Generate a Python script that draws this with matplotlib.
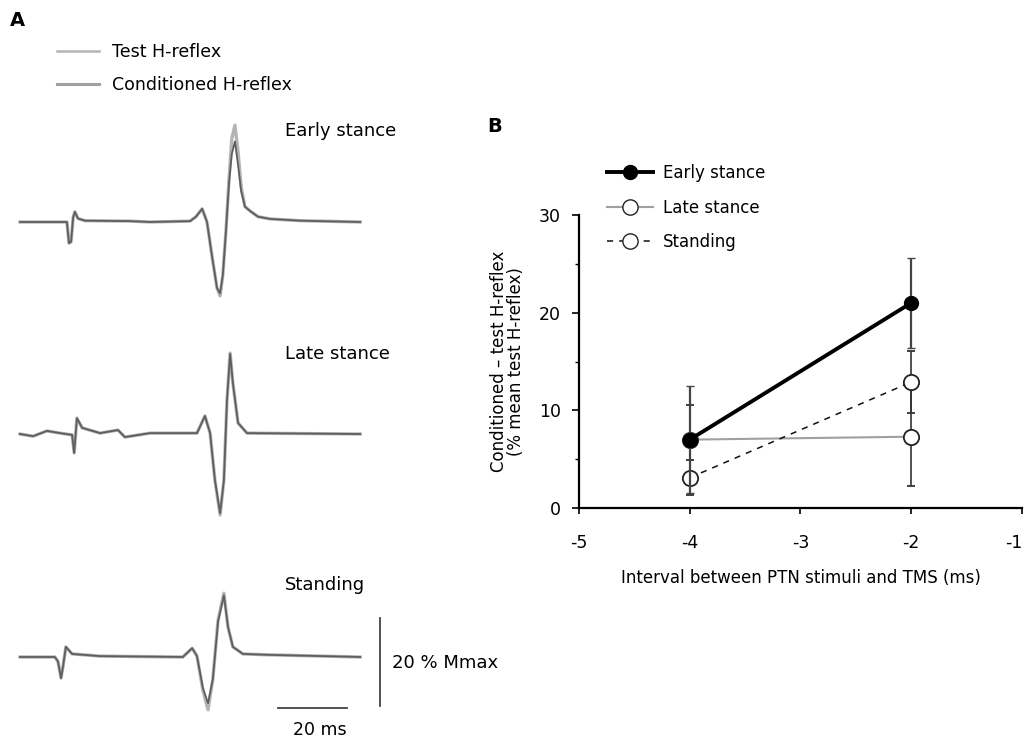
import numpy as np
import matplotlib
matplotlib.use("Agg")
import matplotlib.pyplot as plt
from matplotlib.lines import Line2D

plt.rcParams['font.family'] = ['DejaVu Sans']
plt.rcParams['axes.unicode_minus'] = False

# ---- panel A: H-reflex traces (time in ms, amplitude in % Mmax) ----
early_t = [0, 11.6, 13.6, 14.2, 14.8, 15.4, 15.9, 16.8, 18.8, 31.9, 37.7, 49.3, 51.0, 52.8,
           54.2, 55.7, 57.1, 58.0, 58.8, 59.7, 60.6, 61.4, 62.3, 63.2, 64.1, 65.2, 66.7,
           69.0, 72.5, 81.2, 98.6]
early_test = [0, 0, 0, -4.8, -4.5, 1.0, 2.3, 0.8, 0.3, 0.2, 0, 0.2, 1.2, 3.0,
              0, -8, -15, -16.8, -12, -2, 10, 19, 22, 16, 8, 3.5, 2.5,
              1.2, 0.7, 0.3, 0]
early_cond = [0, 0, 0, -4.8, -4.5, 1.0, 2.3, 0.8, 0.3, 0.2, 0, 0.2, 1.2, 3.0,
              0, -8, -15, -16.2, -12, -2, 9, 15.5, 18.3, 13, 7, 3.5, 2.5,
              1.2, 0.7, 0.3, 0]

late_t = [0, 3.8, 7.8, 11.6, 15.1, 15.7, 16.5, 18.0, 23.2, 28.4, 30.4, 37.7, 51.3, 53.6,
          55.1, 56.5, 58.0, 59.1, 60.0, 60.9, 61.7, 63.2, 65.8, 98.6]
late_test = [0, -0.5, 0.7, 0.2, -0.2, -4.3, 3.6, 1.4, 0.2, 0.9, -0.7, 0.2, 0.2, 4.1,
             0.2, -10.5, -18.4, -10.5, 7.7, 18.4, 11.6, 2.5, 0.2, 0]
late_cond = [0, -0.5, 0.7, 0.2, -0.2, -4.3, 3.6, 1.4, 0.2, 0.9, -0.7, 0.2, 0.2, 4.1,
             0.2, -10.5, -18.0, -10.5, 7.7, 18.2, 11.6, 2.5, 0.2, 0]

stand_t = [0, 10.1, 11.0, 11.9, 12.5, 13.3, 15.1, 23.2, 47.2, 49.9, 51.3, 53.0, 54.5,
           55.9, 57.4, 59.1, 60.3, 61.7, 64.6, 71.6, 98.6]
stand_test = [0, 0, -1, -4.8, -2, 2.3, 0.7, 0.2, 0, 2.0, 0.2, -7.5, -12.0,
              -5, 8.4, 14.5, 6.8, 2.3, 0.7, 0.5, 0]
stand_cond = [0, 0, -1, -4.8, -2, 2.3, 0.7, 0.2, 0, 2.0, 0.2, -7.0, -10.5,
              -5, 8.0, 14.0, 6.8, 2.3, 0.7, 0.5, 0]

# ---- panel B: conditioned - test H-reflex ----
intervals = [-4, -2]
early_mean = [7.0, 21.0]
early_err = [5.5, 4.6]
late_mean = [7.0, 7.3]
late_err = [3.5, 5.0]
stand_mean = [3.1, 12.9]
stand_err = [1.8, 3.2]

fig = plt.figure(figsize=(10.26, 7.44), dpi=100)
W, H = 1026, 744

# panel A axis in pixel-derived units: 3.45 px per ms, 4.4 px per % Mmax
axA = fig.add_axes([0, 0, 0.5, 1])
axA.set_xlim(-20 / 3.45, (513 - 20) / 3.45)
axA.set_ylim(0, 744 / 4.4)
axA.axis('off')

test_col = '#b4b4b4'
cond_col = '#5e5e5e'
offsets = [(744 - 222) / 4.4, (744 - 434) / 4.4, (744 - 657) / 4.4]
for (t, a, b), off in zip([(early_t, early_test, early_cond),
                           (late_t, late_test, late_cond),
                           (stand_t, stand_test, stand_cond)], offsets):
    axA.plot(t, np.array(a) + off, color=test_col, lw=2.4, solid_joinstyle='round')
    axA.plot(t, np.array(b) + off, color=cond_col, lw=1.3, solid_joinstyle='round')

# scale bars
axA.plot([104.3, 104.3], [8.6, 28.6], color='#444444', lw=1.3)
axA.plot([74.8, 94.8], [8.2, 8.2], color='#444444', lw=1.3)

fig.text(392 / W, 1 - 663 / H, '20 % Mmax', fontsize=13, va='center', ha='left')
fig.text(320 / W, 1 - 730 / H, '20 ms', fontsize=12.5, va='center', ha='center')
fig.text(285 / W, 1 - 131 / H, 'Early stance', fontsize=13, va='center', ha='left')
fig.text(285 / W, 1 - 354 / H, 'Late stance', fontsize=13, va='center', ha='left')
fig.text(285 / W, 1 - 585 / H, 'Standing', fontsize=13, va='center', ha='left')
fig.text(10 / W, 1 - 20 / H, 'A', fontsize=14, fontweight='bold', va='center', ha='left')
fig.text(487 / W, 1 - 127 / H, 'B', fontsize=14, fontweight='bold', va='center', ha='left')

legA = [Line2D([], [], color=test_col, lw=1.8), Line2D([], [], color='#a0a0a0', lw=2.2)]
axA.legend(legA, ['Test H-reflex', 'Conditioned H-reflex'], loc='upper left',
           bbox_to_anchor=(57 / W, 1 - 43 / H), bbox_transform=fig.transFigure,
           frameon=False, fontsize=12.5, handlelength=2.4, handletextpad=0.75,
           labelspacing=0.85, borderpad=0, borderaxespad=0)

# panel B
axB = fig.add_axes([579 / W, (744 - 508) / H, (1022 - 579) / W, (508 - 215) / H])
axB.errorbar(intervals, late_mean, yerr=late_err, color='#a0a0a0', lw=1.5,
             ecolor='#333333', elinewidth=1.2, capsize=3, marker='o', ms=11,
             mfc='white', mec='#222222', mew=1.3, zorder=3)
axB.errorbar(intervals, stand_mean, yerr=stand_err, color='#111111', lw=1.1, ls=(0, (4, 4)),
             ecolor='#333333', elinewidth=1.2, capsize=3, marker='o', ms=11,
             mfc='white', mec='#222222', mew=1.3, zorder=3)
axB.errorbar(intervals, early_mean, yerr=early_err, color='black', lw=2.8,
             ecolor='#444444', elinewidth=1.6, capsize=3, marker='o', ms=10,
             mfc='black', mec='black', zorder=4)

axB.set_xlim(-5, -1)
axB.set_ylim(0, 30)
axB.set_xticks([-5, -4, -3, -2, -1])
axB.set_yticks([0, 10, 20, 30])
axB.set_yticks([5, 15, 25], minor=True)
axB.spines['top'].set_visible(False)
axB.spines['right'].set_visible(False)
axB.spines['left'].set_linewidth(1.6)
axB.spines['bottom'].set_linewidth(1.6)
axB.tick_params(axis='x', direction='out', length=4, width=1.2, pad=15, labelsize=12.5)
axB.tick_params(axis='y', direction='out', length=5, width=1.2, pad=8, labelsize=12.5)
axB.tick_params(axis='y', which='minor', direction='out', length=3, width=1.0)
lastlab = axB.get_xticklabels()[-1]
lastlab.set_horizontalalignment('right')
axB.set_xlabel('Interval between PTN stimuli and TMS (ms)', fontsize=12, labelpad=12)
axB.set_ylabel('Conditioned \u2013 test H-reflex\n(% mean test H-reflex)', fontsize=12,
               labelpad=10, linespacing=0.95)

legB = [Line2D([], [], color='black', lw=2.8, marker='o', ms=10, mfc='black'),
        Line2D([], [], color='#a0a0a0', lw=1.5, marker='o', ms=11, mfc='white', mec='#222222'),
        Line2D([], [], color='#111111', lw=1.1, ls=(0, (4, 4)), marker='o', ms=11,
               mfc='white', mec='#222222')]
axB.legend(legB, ['Early stance', 'Late stance', 'Standing'], loc='upper left',
           bbox_to_anchor=(607 / W, 1 - 164 / H), bbox_transform=fig.transFigure,
           frameon=False, fontsize=12, handlelength=2.75, handletextpad=0.6,
           labelspacing=1.0, borderpad=0, borderaxespad=0)

fig.savefig('out.png', dpi=100)
